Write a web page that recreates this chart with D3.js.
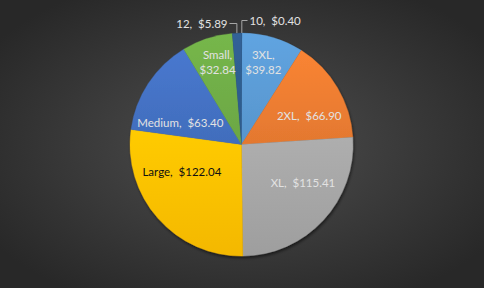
<!DOCTYPE html>
<html>
<head>
<meta charset="utf-8">
<script src="https://cdnjs.cloudflare.com/ajax/libs/d3/7.8.5/d3.min.js"></script>
<style>
  body { margin: 0; background: #fff; }
  svg { display: block; }
  text { white-space: pre; }
</style>
</head>
<body>
<div id="chart"></div>
<script>
// data
var sizes = ["10", "3XL", "2XL", "XL", "Large", "Medium", "Small", "12"];
var totals = [0.40, 39.82, 66.90, 115.41, 122.04, 63.40, 32.84, 5.89];
var colors = ["#2c5f93", "#5b9bd5", "#ed7d31", "#a5a5a5", "#ffc000", "#4472c4", "#70ad47", "#2e5d8f"];

var width = 484, height = 289;
var cx = 241.5, cy = 144.5, radius = 111.5;

// label placement (degrees clockwise from top, fraction of radius, split into two lines)
var labelLayout = {
  "3XL":    {a: 14.5, r: 0.78, two: true},
  "2XL":    {a: 67, r: 0.66},
  "XL":     {a: 122, r: 0.65},
  "Large":  {a: 245, r: 0.59},
  "Medium": {a: 289, r: 0.58},
  "Small":  {a: 344, r: 0.78, two: true}
};

var svg = d3.select("#chart")
    .append("svg")
    .attr("width", width)
    .attr("height", height);

var defs = svg.append("defs");

var bg = defs.append("radialGradient")
    .attr("id", "bg")
    .attr("cx", "50%").attr("cy", "50%").attr("r", "62%");
bg.append("stop").attr("offset", "0%").attr("stop-color", "#4f4f4f");
bg.append("stop").attr("offset", "100%").attr("stop-color", "#282828");

var shadow = defs.append("filter")
    .attr("id", "shadow")
    .attr("x", "-10%").attr("y", "-10%").attr("width", "120%").attr("height", "120%");
shadow.append("feDropShadow")
    .attr("dx", 1).attr("dy", 2)
    .attr("stdDeviation", 1.5)
    .attr("flood-color", "#000")
    .attr("flood-opacity", 0.55);

// slice gradients, lighter on top
colors.forEach(function(c, i) {
  var g = defs.append("linearGradient")
      .attr("id", "grad" + i)
      .attr("x1", 0).attr("y1", 0).attr("x2", 0).attr("y2", 1);
  g.append("stop").attr("offset", "0%").attr("stop-color", d3.color(c).brighter(0.15));
  g.append("stop").attr("offset", "100%").attr("stop-color", d3.color(c).darker(0.12));
});

svg.append("rect")
    .attr("width", width)
    .attr("height", height - 1)
    .attr("fill", "url(#bg)");

var data = sizes.map(function(s, i) { return {size: s, total: totals[i], idx: i}; });

var pie = d3.pie()
    .sort(null)
    .value(function(d) { return d.total; });

var arc = d3.arc()
    .innerRadius(0)
    .outerRadius(radius);

var arcs = pie(data);

var g = svg.append("g")
    .attr("transform", "translate(" + cx + "," + cy + ")");

g.append("g")
    .attr("filter", "url(#shadow)")
    .selectAll("path")
    .data(arcs)
    .enter()
    .append("path")
    .attr("d", arc)
    .attr("fill", function(d) { return "url(#grad" + d.data.idx + ")"; })
    .attr("stroke", function(d) { return colors[d.data.idx]; })
    .attr("stroke-width", 0.3);

var font = "Lato, 'Open Sans', sans-serif";
var fsize = "11.5px";

// inside labels
arcs.forEach(function(d) {
  var L = labelLayout[d.data.size];
  if (!L) return;
  var ang = L.a * Math.PI / 180;
  var x = Math.sin(ang) * radius * L.r;
  var y = -Math.cos(ang) * radius * L.r;
  var txt = g.append("text")
      .attr("x", x)
      .attr("y", y)
      .attr("text-anchor", "middle")
      .style("font-family", font)
      .style("font-size", fsize)
      .attr("fill", d.data.size == "Large" ? "#111" : "#e2e2e2");
  var val = "$" + d3.format(".2f")(d.data.total);
  if (L.two) {
    txt.append("tspan").attr("x", x).attr("dy", "-0.15em").text(d.data.size + ",");
    txt.append("tspan").attr("x", x).attr("dy", "1.3em").text(val);
  } else {
    txt.attr("dy", "0.35em").text(d.data.size + ",  " + val);
  }
});

// outside labels with leader lines for tiny slices
var outside = [
  {size: "10", anchor: "start", tx: 8, ty: -124},
  {size: "12", anchor: "end", tx: -14, ty: -121}
];
outside.forEach(function(o) {
  var d = arcs.find(function(a) { return a.data.size == o.size; });
  var mid = (d.startAngle + d.endAngle) / 2;
  var ex = Math.sin(mid) * radius, ey = -Math.cos(mid) * radius;
  var lx = o.anchor == "start" ? o.tx - 2 : o.tx + 2;
  g.append("polyline")
      .attr("points", [[ex, ey], [ex, o.ty], [lx, o.ty]].map(function(p) { return p.join(","); }).join(" "))
      .attr("fill", "none")
      .attr("stroke", "#a6a6a6")
      .attr("stroke-width", 1);
  g.append("text")
      .attr("x", o.tx)
      .attr("y", o.ty)
      .attr("dy", "0.35em")
      .attr("text-anchor", o.anchor)
      .style("font-family", font)
      .style("font-size", fsize)
      .attr("fill", "#e2e2e2")
      .text(o.size + ",  $" + d3.format(".2f")(d.data.total));
});
</script>
</body>
</html>
